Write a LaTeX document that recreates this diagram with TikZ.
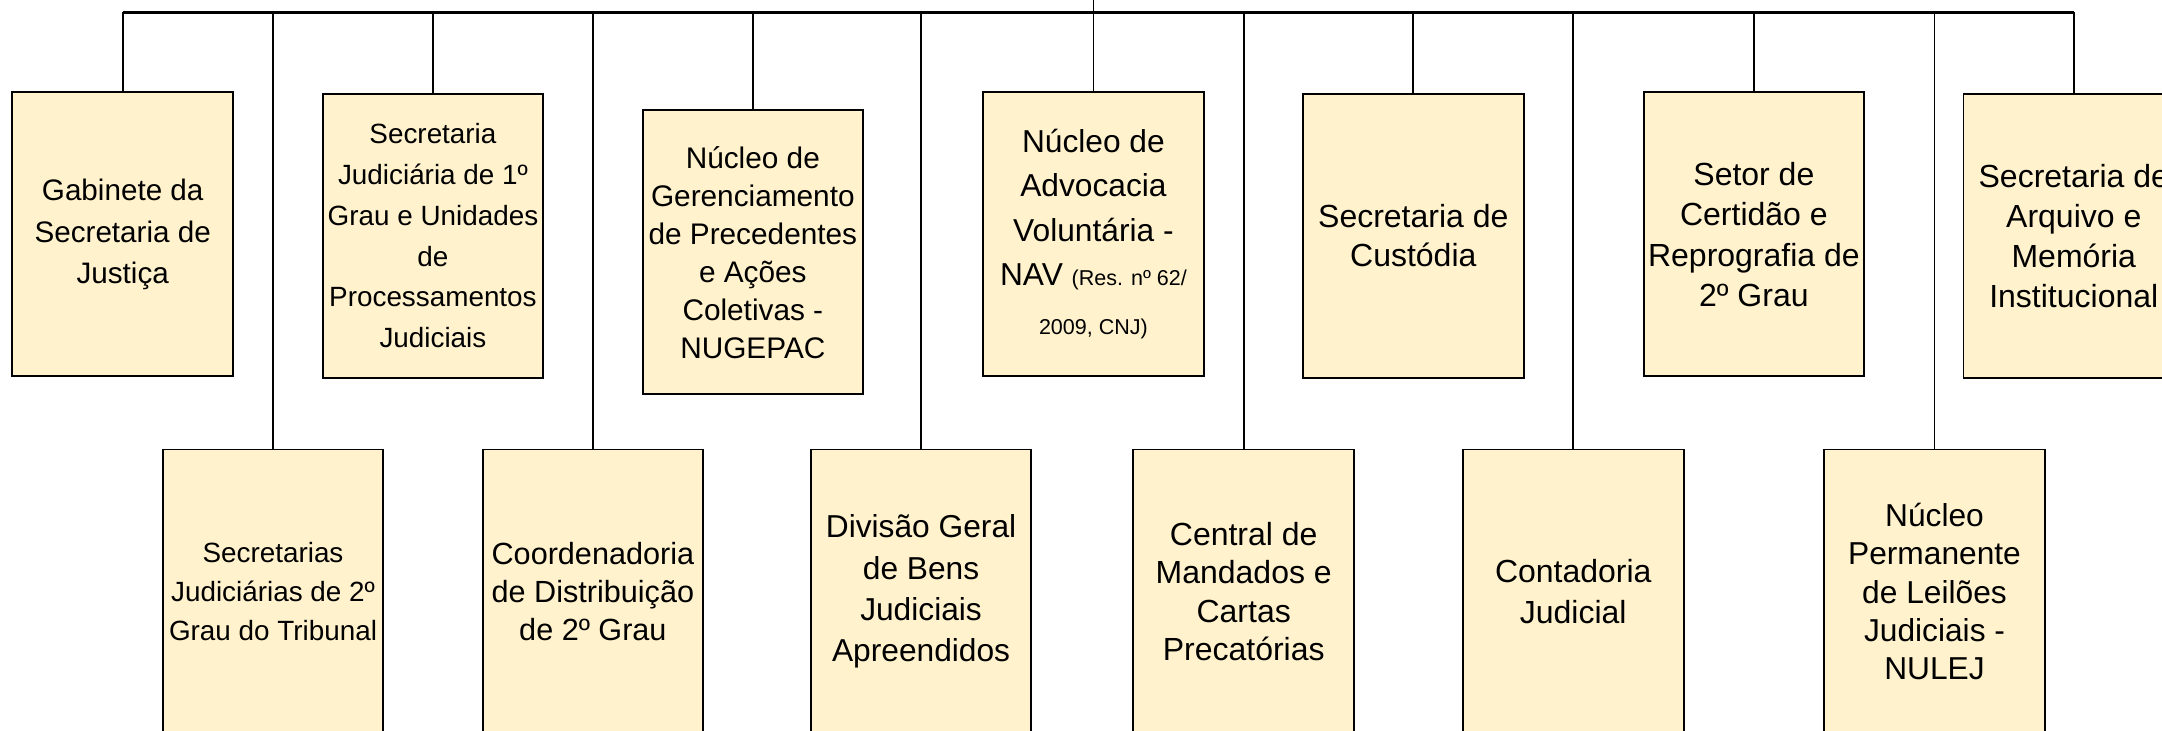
\documentclass[tikz,border=0pt]{standalone}
\usepackage{fontspec}
\setmainfont{Liberation Sans}
\usetikzlibrary{positioning}
\definecolor{boxfill}{HTML}{FFF2CC}

\begin{document}
\begin{tikzpicture}[x=0.5pt,y=-0.5pt,
  unitbox/.style={draw=black,line width=0.7pt,fill=boxfill,minimum width=80pt,minimum height=103pt,
    inner sep=0pt,align=center,font=\fontsize{11.5}{14.5}\selectfont},
  link/.style={line width=0.6pt},
  busline/.style={line width=0.8pt}]
\useasboundingbox (0,0) rectangle (1568,530);
\clip (0,0) rectangle (1568,530);
\coordinate (bus) at (0,9);
\coordinate (head) at (793,0);

\node[unitbox,font=\fontsize{10.75}{15}\selectfont] (gabinete) at (89,170) {Gabinete da\\Secretaria de\\Justiça};
\node[unitbox,font=\fontsize{10.1}{14.8}\selectfont] (sjprim) at (314,171) {Secretaria\\Judiciária de 1º\\Grau e Unidades\\de\\Processamentos\\Judiciais};
\node[unitbox,font=\fontsize{10.8}{13.8}\selectfont] (nugepac) at (546,183) {Núcleo de\\Gerenciamento\\de Precedentes\\e Ações\\Coletivas -\\NUGEPAC};
\node[unitbox,font=\fontsize{11.5}{16}\selectfont] (nav) at (793,170) {Núcleo de\\Advocacia\\Voluntária -\\NAV {\fontsize{7.8}{9}\selectfont (Res. nº 62/}\\[2pt]{\fontsize{7.8}{9}\selectfont 2009, CNJ)}};
\node[unitbox,font=\fontsize{11.6}{14}\selectfont] (custodia) at (1025,171) {Secretaria de\\Custódia};
\node[unitbox,font=\fontsize{11.6}{14.7}\selectfont] (certidao) at (1272,170) {Setor de\\Certidão e\\Reprografia de\\2º Grau};
\node[unitbox,font=\fontsize{11.6}{14.5}\selectfont] (arquivo) at (1504,171) {Secretaria de\\Arquivo e\\Memória\\Institucional};

\node[unitbox,font=\fontsize{10.1}{14.3}\selectfont] (sjseg) at (198,429) {Secretarias\\Judiciárias de 2º\\Grau do Tribunal};
\node[unitbox,font=\fontsize{11.1}{13.8}\selectfont] (distrib) at (430,429) {Coordenadoria\\de Distribuição\\de 2º Grau};
\node[unitbox,font=\fontsize{11.5}{15}\selectfont] (bens) at (668,429) {Divisão Geral\\de Bens\\Judiciais\\Apreendidos};
\node[unitbox,font=\fontsize{11.6}{14}\selectfont] (mandados) at (902,429) {Central de\\Mandados e\\Cartas\\Precatórias};
\node[unitbox,font=\fontsize{11.6}{15}\selectfont] (contadoria) at (1141,429) {Contadoria\\Judicial};
\node[unitbox,font=\fontsize{11.5}{13.9}\selectfont] (nulej) at (1403,429) {Núcleo\\Permanente\\de Leilões\\Judiciais -\\NULEJ};

\draw[busline] (gabinete.north |- bus) -- (arquivo.north |- bus);
\draw[link] (head) -- (head |- bus);
\foreach \n in {gabinete,sjprim,nugepac,nav,custodia,certidao,arquivo,sjseg,distrib,bens,mandados,contadoria,nulej}
  \draw[link] (\n.north |- bus) -- (\n.north);
\end{tikzpicture}
\end{document}
